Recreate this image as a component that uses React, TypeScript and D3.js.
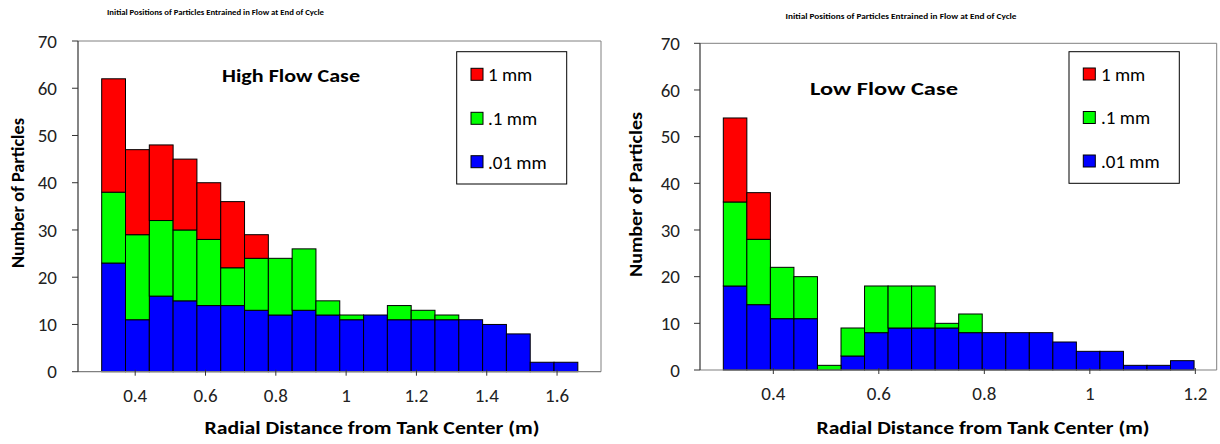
import React from "react";
import * as d3 from "d3";

// Particle size classes, drawn bottom-to-top as .01 mm, .1 mm, 1 mm
const SIZE_LABELS = ["1 mm", ".1 mm", ".01 mm"];
const SIZE_COLORS = ["#FF0000", "#00FF00", "#0000FF"];
const STACK_KEYS = ["fine", "medium", "coarse"];

const CHART_TITLE = "Initial Positions of Particles Entrained in Flow at End of Cycle";
const X_TITLE = "Radial Distance from Tank Center (m)";
const Y_TITLE = "Number of Particles";
const Y_TICKS = [0, 10, 20, 30, 40, 50, 60, 70];

// High flow case: 20 radial bins
const HIGH_BIN_START = 0.3047;
const HIGH_BIN_WIDTH = 0.06772;
const HIGH_FINE = [23, 11, 16, 15, 14, 14, 13, 12, 13, 12, 11, 12, 11, 11, 11, 11, 10, 8, 2, 2];
const HIGH_MEDIUM = [15, 18, 16, 15, 14, 8, 11, 12, 13, 3, 1, 0, 3, 2, 1, 0, 0, 0, 0, 0];
const HIGH_COARSE = [24, 18, 16, 15, 12, 14, 5, 0, 0, 0, 0, 0, 0, 0, 0, 0, 0, 0, 0, 0];
const HIGH_X_TICKS = [0.4, 0.6, 0.8, 1, 1.2, 1.4, 1.6];

// Low flow case: 20 radial bins
const LOW_BIN_START = 0.3052;
const LOW_BIN_WIDTH = 0.04462;
const LOW_FINE = [18, 14, 11, 11, 0, 3, 8, 9, 9, 9, 8, 8, 8, 8, 6, 4, 4, 1, 1, 2];
const LOW_MEDIUM = [18, 14, 11, 9, 1, 6, 10, 9, 9, 1, 4, 0, 0, 0, 0, 0, 0, 0, 0, 0];
const LOW_COARSE = [18, 10, 0, 0, 0, 0, 0, 0, 0, 0, 0, 0, 0, 0, 0, 0, 0, 0, 0, 0];
const LOW_X_TICKS = [0.4, 0.6, 0.8, 1, 1.2];

const FONT = "Carlito, Calibri, Lato, 'Open Sans', sans-serif";

type Layout = {
  left: number; right: number; bottom: number; top: number;
  xDomain: [number, number];
  title: { cx: number; y: number; len: number; size: number };
  yTitle: { x: number; cy: number; len: number; size: number };
  xTitle: { cx: number; y: number; len: number; size: number };
  note: { x: number; y: number; len: number; size: number };
  legend: { x0: number; y0: number; x1: number; y1: number; sqX: number; rows: number[]; textX: number };
  yLabelRight: number;
};

type PanelProps = {
  layout: Layout;
  note: string;
  binStart: number;
  binWidth: number;
  fine: number[];
  medium: number[];
  coarse: number[];
  xTicks: number[];
};

function Panel({ layout: L, note, binStart, binWidth, fine, medium, coarse, xTicks }: PanelProps) {
  const x = d3.scaleLinear().domain(L.xDomain).range([L.left, L.right]);
  const y = d3.scaleLinear().domain([0, 70]).range([L.bottom, L.top]);

  const rows = fine.map((f, i) => ({
    x0: binStart + i * binWidth,
    x1: binStart + (i + 1) * binWidth,
    fine: f,
    medium: medium[i],
    coarse: coarse[i],
  }));
  const series = d3.stack<any>().keys(STACK_KEYS)(rows);
  // series index 0 = fine (blue), 1 = medium (green), 2 = coarse (red)
  const seriesColor = [SIZE_COLORS[2], SIZE_COLORS[1], SIZE_COLORS[0]];

  return (
    <g>
      <text x={L.title.cx} y={L.title.y} textAnchor="middle" fontFamily={FONT} fontWeight="bold"
        fontSize={L.title.size} textLength={L.title.len} lengthAdjust="spacingAndGlyphs" fill="#000">
        {CHART_TITLE}
      </text>

      {/* plot frame: top and right edges */}
      <path d={`M${L.left},${L.top}H${L.right}V${L.bottom}`} fill="none" stroke="#808080" strokeWidth={1} />

      {series.map((s, si) => (
        <g key={STACK_KEYS[si]}>
          {s.map((d, i) =>
            d[1] - d[0] > 0 ? (
              <rect key={i} x={x(d.data.x0)} y={y(d[1])} width={x(d.data.x1) - x(d.data.x0)}
                height={y(d[0]) - y(d[1])} fill={seriesColor[si]} stroke="#000" strokeWidth={1} />
            ) : null
          )}
        </g>
      ))}

      {/* x axis */}
      <line x1={L.left} x2={L.right} y1={L.bottom} y2={L.bottom} stroke="#808080" strokeWidth={1.2} />
      {xTicks.map((t) => (
        <g key={t}>
          <line x1={x(t)} x2={x(t)} y1={L.bottom - 2} y2={L.bottom + 4} stroke="#333" strokeWidth={1} />
          <text x={x(t)} y={L.bottom + 30} textAnchor="middle" fontFamily={FONT} fontSize={19} fill="#222">
            {d3.format("~g")(t)}
          </text>
        </g>
      ))}

      {/* y axis */}
      <line x1={L.left} x2={L.left} y1={L.top} y2={L.bottom} stroke="#333" strokeWidth={1.2} />
      {Y_TICKS.map((t) => (
        <g key={t}>
          <line x1={L.left - 6} x2={L.left} y1={y(t)} y2={y(t)} stroke="#333" strokeWidth={1} />
          <text x={L.yLabelRight} y={y(t)} dy="0.35em" textAnchor="end" fontFamily={FONT} fontSize={19} fill="#222">
            {t}
          </text>
        </g>
      ))}

      <text transform={`translate(${L.yTitle.x},${L.yTitle.cy}) rotate(-90)`} textAnchor="middle"
        dominantBaseline="central" fontFamily={FONT} fontWeight="bold" fontSize={L.yTitle.size}
        textLength={L.yTitle.len} lengthAdjust="spacingAndGlyphs" fill="#000">
        {Y_TITLE}
      </text>

      <text x={L.xTitle.cx} y={L.xTitle.y} textAnchor="middle" fontFamily={FONT} fontWeight="bold"
        fontSize={L.xTitle.size} textLength={L.xTitle.len} lengthAdjust="spacingAndGlyphs" fill="#000">
        {X_TITLE}
      </text>

      <text x={L.note.x} y={L.note.y} fontFamily={FONT} fontWeight="bold" fontSize={L.note.size}
        textLength={L.note.len} lengthAdjust="spacingAndGlyphs" fill="#000">
        {note}
      </text>

      {/* legend */}
      <rect x={L.legend.x0} y={L.legend.y0} width={L.legend.x1 - L.legend.x0} height={L.legend.y1 - L.legend.y0}
        fill="#fff" stroke="#000" strokeWidth={1} />
      {SIZE_LABELS.map((lab, i) => (
        <g key={lab}>
          <rect x={L.legend.sqX} y={L.legend.rows[i] - 6} width={12} height={12} fill={SIZE_COLORS[i]}
            stroke="#000" strokeWidth={1} />
          <text x={L.legend.textX} y={L.legend.rows[i]} dy="0.36em" fontFamily={FONT} fontSize={19} fill="#000">
            {lab}
          </text>
        </g>
      ))}
    </g>
  );
}

const HIGH_LAYOUT: Layout = {
  left: 78, right: 601, bottom: 371.7, top: 41,
  xDomain: [0.2373, 1.725],
  title: { cx: 215.5, y: 15, len: 217, size: 8 },
  yTitle: { x: 18, cy: 193, len: 150, size: 17 },
  xTitle: { cx: 372, y: 434, len: 335, size: 19 },
  note: { x: 222, y: 82, len: 138, size: 18 },
  legend: { x0: 456.7, y0: 51.7, x1: 566.7, y1: 184, sqX: 471, rows: [74.3, 118.3, 161.7], textX: 488 },
  yLabelRight: 57,
};

const LOW_LAYOUT: Layout = {
  left: 700, right: 1216.7, bottom: 370, top: 43.3,
  xDomain: [0.261, 1.2405],
  title: { cx: 901, y: 19, len: 231, size: 8.5 },
  yTitle: { x: 636, cy: 194.5, len: 165, size: 18 },
  xTitle: { cx: 983, y: 434, len: 333, size: 19 },
  note: { x: 810, y: 95, len: 148, size: 19 },
  legend: { x0: 1069, y0: 51.7, x1: 1179.3, y1: 183.3, sqX: 1083.3, rows: [74, 117.5, 161], textX: 1101 },
  yLabelRight: 680,
};

export default function App() {
  return (
    <div style={{ position: "absolute", left: 0, top: 0 }}>
      <svg width={1220} height={444} viewBox="0 0 1220 444" style={{ display: "block", background: "#fff" }}>
        <Panel layout={HIGH_LAYOUT} note="High Flow Case" binStart={HIGH_BIN_START} binWidth={HIGH_BIN_WIDTH}
          fine={HIGH_FINE} medium={HIGH_MEDIUM} coarse={HIGH_COARSE} xTicks={HIGH_X_TICKS} />
        <Panel layout={LOW_LAYOUT} note="Low Flow Case" binStart={LOW_BIN_START} binWidth={LOW_BIN_WIDTH}
          fine={LOW_FINE} medium={LOW_MEDIUM} coarse={LOW_COARSE} xTicks={LOW_X_TICKS} />
      </svg>
    </div>
  );
}
